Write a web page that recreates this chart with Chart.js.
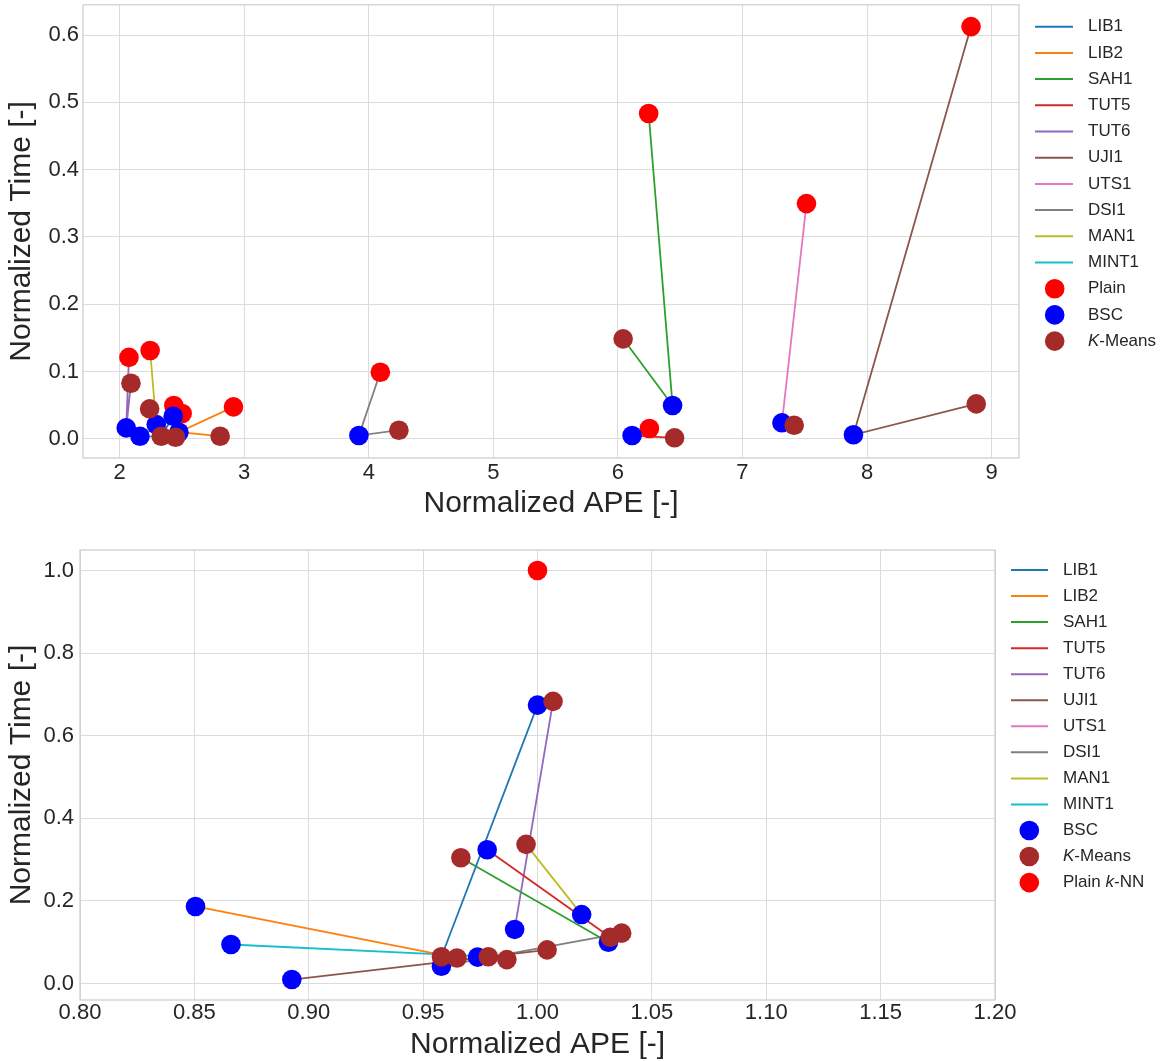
<!DOCTYPE html>
<html><head><meta charset="utf-8">
<script src="https://cdn.jsdelivr.net/npm/chart.js@4.4.1/dist/chart.umd.min.js"></script>
<style>
html,body{margin:0;padding:0;background:#fff;}
#wrap{position:relative;width:1173px;height:1061px;overflow:hidden;}
canvas{position:absolute;left:0;display:block;}
#c1{top:-5px}
#c2{top:525px}
</style></head><body>
<div id="wrap"><canvas id="c1" width="1173" height="530"></canvas><canvas id="c2" width="1173" height="536"></canvas></div>
<script>
// ---------- DATA ----------
const seriesNames = ['LIB1','LIB2','SAH1','TUT5','TUT6','UJI1','UTS1','DSI1','MAN1','MINT1'];

// Top chart: absolute values
const plainAPE  = [2.435, 2.914, 6.247, 6.253, 2.075, 8.835, 7.514, 4.093, 2.245, 2.502];
const plainTime = [0.0495, 0.0475, 0.4835, 0.0153, 0.121, 0.6126, 0.3496, 0.099, 0.1312, 0.0376];
const bscAPE    = [2.430, 2.476, 6.439, 6.114, 2.053, 7.891, 7.317, 3.921, 2.294, 2.163];
const bscTime   = [0.0336, 0.0098, 0.0495, 0.0049, 0.0163, 0.0060, 0.0238, 0.0049, 0.0212, 0.0039];
const kmAPE     = [2.334, 2.807, 6.042, 6.455, 2.091, 8.877, 7.415, 4.242, 2.241, 2.449];
const kmTime    = [0.0039, 0.0039, 0.1486, 0.0015, 0.0826, 0.0520, 0.0202, 0.0128, 0.0446, 0.0024];

// Bottom chart: values relative to plain k-NN
const bscAPERel  = [1.000, 0.8505, 1.031, 0.978, 0.990, 0.8926, 0.9738, 0.958, 1.0193, 0.866];
const bscTimeRel = [0.674, 0.1866, 0.100, 0.324, 0.131, 0.0097, 0.064, 0.042, 0.167, 0.0945];
const kmAPERel   = [0.958, 0.9648, 0.9665, 1.0318, 1.0068, 1.0042, 0.9866, 1.0368, 0.995, 0.9785];
const kmTimeRel  = [0.065, 0.062, 0.3046, 0.112, 0.683, 0.0816, 0.058, 0.122, 0.337, 0.065];
const plainAPERel  = [1.0];
const plainTimeRel = [1.0];

// Tick values
const topXTicks = [2, 3, 4, 5, 6, 7, 8, 9];
const topYTicks = [0, 0.1, 0.2, 0.3, 0.4, 0.5, 0.6];
const botXTicks = [0.80, 0.85, 0.90, 0.95, 1.00, 1.05, 1.10, 1.15, 1.20];
const botYTicks = [0, 0.2, 0.4, 0.6, 0.8, 1.0];

// ---------- STYLE ----------
const seriesColors = ['#1f77b4','#ff7f0e','#2ca02c','#d62728','#9467bd','#8c564b','#e377c2','#7f7f7f','#bcbd22','#17becf'];
const FONT = '"Liberation Sans", Arial, sans-serif';
const TXT = '#262626';
const GRID = '#dcdcdc';
const FRAME = '#cccccc';
const MR = 9.8;

Chart.defaults.font.family = FONT;
Chart.defaults.color = TXT;

function makeLegend(cfg) {
  return {
    id: 'sideLegend',
    afterDraw(chart) {
      const ctx = chart.ctx;
      ctx.save();
      cfg.items.forEach((it, i) => {
        const y = cfg.y0 + i * cfg.dy;
        if (it.type === 'line') {
          ctx.strokeStyle = it.color; ctx.lineWidth = 2;
          ctx.beginPath(); ctx.moveTo(cfg.lineX0, y); ctx.lineTo(cfg.lineX1, y); ctx.stroke();
        } else {
          ctx.fillStyle = it.color;
          ctx.beginPath(); ctx.arc(cfg.dotX, y, MR, 0, Math.PI * 2); ctx.fill();
        }
        let x = cfg.textX;
        ctx.fillStyle = TXT; ctx.textBaseline = 'middle'; ctx.textAlign = 'left';
        it.label.forEach(seg => {
          ctx.font = (seg.i ? 'italic ' : '') + '17px ' + FONT;
          ctx.fillText(seg.t, x, y);
          x += ctx.measureText(seg.t).width;
        });
      });
      ctx.restore();
    }
  };
}

const framePlugin = {
  id: 'frame',
  beforeDatasetsDraw(chart) {
    const a = chart.chartArea, ctx = chart.ctx;
    ctx.save(); ctx.strokeStyle = FRAME; ctx.lineWidth = 1.2;
    ctx.strokeRect(a.left, a.top, a.right - a.left, a.bottom - a.top);
    ctx.restore();
  }
};

function axis(opts) {
  return {
    type: 'linear', min: opts.min, max: opts.max,
    afterBuildTicks: s => { s.ticks = opts.ticks.map(v => ({ value: v })); },
    afterFit: s => {
      if (opts.width !== undefined) { s.width = opts.width; s.paddingTop = 0; s.paddingBottom = 0; }
      if (opts.height !== undefined) { s.height = opts.height; s.paddingLeft = 0; s.paddingRight = 0; }
    },
    ticks: { font: { size: 22 }, color: TXT, padding: opts.tpad, autoSkip: false, maxRotation: 0, minRotation: 0,
             callback: v => v.toFixed(opts.dec) },
    grid: { color: GRID, lineWidth: 1, drawTicks: false },
    border: { display: false },
    title: { display: true, text: opts.title, font: { size: 30, lineHeight: 1.0 }, color: TXT, padding: opts.titlePad }
  };
}

function lineSets(pts) {
  return seriesNames.map((n, i) => ({
    label: n, data: pts(i), showLine: true, borderColor: seriesColors[i], backgroundColor: seriesColors[i],
    borderWidth: 1.8, pointRadius: 0, pointHoverRadius: 0, order: 10, tension: 0
  }));
}
function markerSet(label, xs, ys, color, order) {
  return { label, data: xs.map((x, i) => ({ x, y: ys[i] })), showLine: false, backgroundColor: color,
           borderColor: color, borderWidth: 0, pointRadius: MR, pointHoverRadius: MR, order };
}

const lineItems = seriesNames.map((n, i) => ({ type: 'line', color: seriesColors[i], label: [{ t: n }] }));

// ---------- TOP CHART ----------
new Chart(document.getElementById('c1'), {
  type: 'scatter',
  data: {
    datasets: [
      ...lineSets(i => [{ x: plainAPE[i], y: plainTime[i] }, { x: bscAPE[i], y: bscTime[i] }, { x: kmAPE[i], y: kmTime[i] }]),
      markerSet('Plain', plainAPE, plainTime, '#ff0000', 3),
      markerSet('BSC', bscAPE, bscTime, '#0000ff', 2),
      markerSet('K-Means', kmAPE, kmTime, '#a52a2a', 1)
    ]
  },
  options: {
    responsive: false, animation: false,
    layout: { padding: { left: 0, right: 154, top: 0, bottom: 0 } },
    plugins: { legend: { display: false }, tooltip: { enabled: false } },
    scales: {
      x: axis({ min: 1.706, max: 9.22, ticks: topXTicks, dec: 0, tpad: 2, height: 67, title: 'Normalized APE [-]', titlePad: { top: 0, bottom: 6 } }),
      y: axis({ min: -0.0285, max: 0.645, ticks: topYTicks, dec: 1, tpad: 4, width: 83, title: 'Normalized Time [-]', titlePad: { top: 7, bottom: 0 } })
    }
  },
  plugins: [framePlugin, makeLegend({
    y0: 31.7, dy: 26.2, lineX0: 1035, lineX1: 1073, dotX: 1054.7, textX: 1088,
    items: [...lineItems,
      { type: 'dot', color: '#ff0000', label: [{ t: 'Plain' }] },
      { type: 'dot', color: '#0000ff', label: [{ t: 'BSC' }] },
      { type: 'dot', color: '#a52a2a', label: [{ t: 'K', i: true }, { t: '-Means' }] }]
  })]
});

// ---------- BOTTOM CHART ----------
new Chart(document.getElementById('c2'), {
  type: 'scatter',
  data: {
    datasets: [
      ...lineSets(i => [{ x: bscAPERel[i], y: bscTimeRel[i] }, { x: kmAPERel[i], y: kmTimeRel[i] }]),
      markerSet('BSC', bscAPERel, bscTimeRel, '#0000ff', 3),
      markerSet('K-Means', kmAPERel, kmTimeRel, '#a52a2a', 2),
      markerSet('Plain k-NN', plainAPERel, plainTimeRel, '#ff0000', 1)
    ]
  },
  options: {
    responsive: false, animation: false,
    layout: { padding: { left: 0, right: 178, top: 25, bottom: 0 } },
    plugins: { legend: { display: false }, tooltip: { enabled: false } },
    scales: {
      x: axis({ min: 0.8, max: 1.2, ticks: botXTicks, dec: 2, tpad: 0, height: 61, title: 'Normalized APE [-]', titlePad: { top: 0, bottom: 1 } }),
      y: axis({ min: -0.0398, max: 1.0495, ticks: botYTicks, dec: 1, tpad: 6, width: 80, title: 'Normalized Time [-]', titlePad: { top: 7, bottom: 0 } })
    }
  },
  plugins: [framePlugin, makeLegend({
    y0: 45, dy: 26.05, lineX0: 1011, lineX1: 1048, dotX: 1029.3, textX: 1063,
    items: [...lineItems,
      { type: 'dot', color: '#0000ff', label: [{ t: 'BSC' }] },
      { type: 'dot', color: '#a52a2a', label: [{ t: 'K', i: true }, { t: '-Means' }] },
      { type: 'dot', color: '#ff0000', label: [{ t: 'Plain ' }, { t: 'k', i: true }, { t: '-NN' }] }]
  })]
});
</script>
</body></html>
